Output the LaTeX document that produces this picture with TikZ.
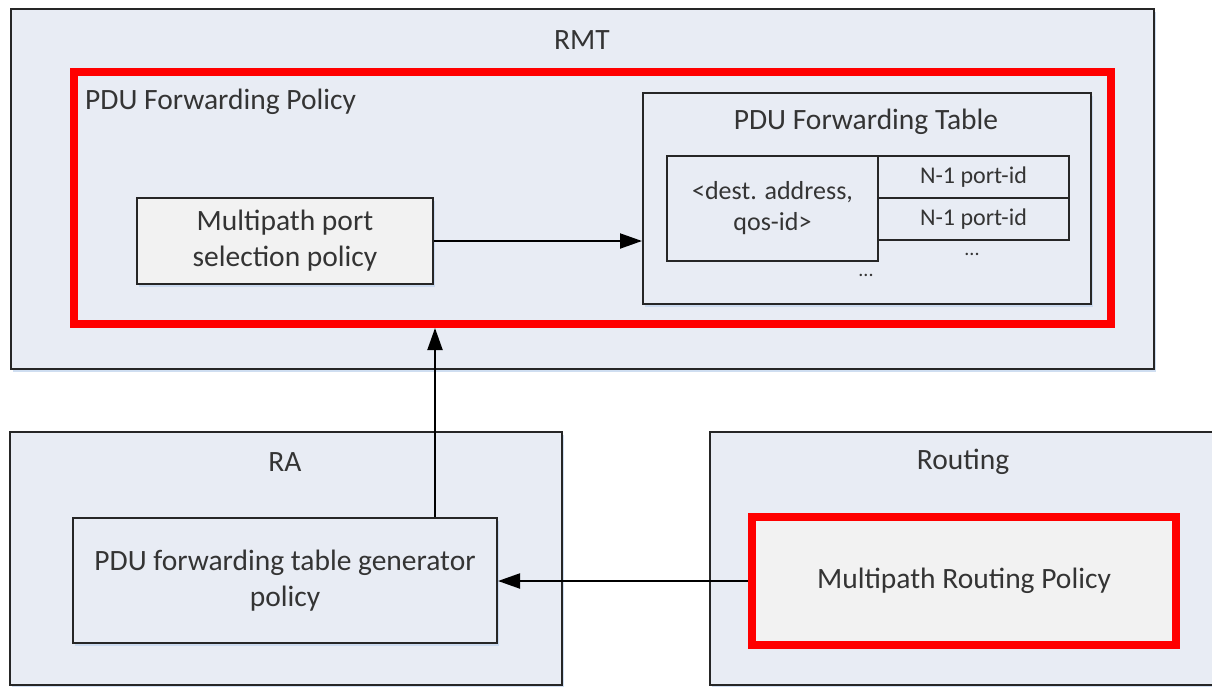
\documentclass[tikz,border=0pt]{standalone}
\usepackage{fontspec}
\setmainfont{Carlito}
\usetikzlibrary{arrows.meta,shadows}

\definecolor{panelfill}{RGB}{232,236,244}
\definecolor{boxfill}{RGB}{242,242,242}
\definecolor{ink}{RGB}{52,52,52}
\definecolor{hilite}{RGB}{255,0,0}
\definecolor{shade}{RGB}{196,214,238}

\begin{document}
\begin{tikzpicture}[x=1pt,y=-1pt,
  font=\fontsize{29.5}{36}\selectfont, text=ink,
  soft/.style={drop shadow={shadow xshift=1.5pt, shadow yshift=-2.5pt, fill=shade, opacity=0.8}},
  panel/.style={draw=black!85, line width=2pt, fill=panelfill, inner sep=0pt, soft},
  inbox/.style={draw=black!85, line width=2pt, fill=boxfill, inner sep=0pt, align=center, soft},
  redbox/.style={draw=hilite, line width=8pt, inner sep=0pt},
  cell/.style={draw=black!85, line width=2pt, inner sep=0pt, align=center,
               font=\fontsize{24}{29}\selectfont},
  lbl/.style={inner sep=0pt},
  dots/.style={inner sep=0pt, font=\fontsize{20}{24}\selectfont},
  link/.style={line width=2pt, draw=black, -{Triangle[length=22pt,width=15pt]}}]

\clip (0,0) rectangle (1212,686);
\fill[white] (0,0) rectangle (1212,686);

% ---- RMT ----
\node[panel, minimum width=1143pt, minimum height=360pt] (rmt) at (582.5,189) {};
\node[lbl] (rmtlbl) at (582,40) {RMT};

% forwarding policy (highlighted)
\node[redbox, minimum width=1037pt, minimum height=252pt] (fwdpol) at (592.5,198) {};
\node[lbl, anchor=west] (fwdlbl) at (85,102) {PDU Forwarding Policy};

\node[inbox, minimum width=296pt, minimum height=86pt] (mpsel) at (285,241)
  {Multipath port\\selection policy};

% forwarding table
\node[panel, minimum width=448pt, minimum height=211pt] (tbl) at (867,198.5) {};
\node[lbl] (tbllbl) at (866,122) {PDU Forwarding Table};
\node[cell, fill=panelfill, minimum width=211pt, minimum height=105pt,
      font=\fontsize{26}{31}\selectfont] (dest) at (772.5,208.5) {<dest. address,\\qos-id>};
\node[cell, fill=panelfill, minimum width=191pt, minimum height=42pt] (port1) at (973.5,177) {N-1 port-id};
\node[cell, fill=panelfill, minimum width=191pt, minimum height=42pt] (port2) at (973.5,219) {N-1 port-id};
\node[dots] (dotsport) at (972,254) {...};
\node[dots] (dotsdest) at (866,275) {...};

% ---- RA ----
\node[panel, minimum width=552pt, minimum height=253pt] (ra) at (286,558.5) {};
\node[lbl] (ralbl) at (285,462) {RA};
\node[inbox, fill=panelfill, minimum width=424pt, minimum height=125pt] (gen) at (285,580.5)
  {PDU forwarding table generator\\policy};

% ---- Routing ----
\node[panel, minimum width=520pt, minimum height=253pt] (routing) at (970,558.5) {};
\node[lbl] (routlbl) at (963,462) {Routing};
\node[redbox, fill=boxfill, minimum width=424pt, minimum height=128pt, soft] (mproute) at (964,581)
  {Multipath Routing Policy};

% ---- connectors ----
\coordinate (upx) at (435,0);
\draw[link] (mpsel.east) -- (mpsel.east -| tbl.west);
\draw[link] (gen.north -| upx) -- (fwdpol.south -| upx);
\draw[link] (mproute.west) -- (mproute.west -| gen.east);

\end{tikzpicture}
\end{document}
